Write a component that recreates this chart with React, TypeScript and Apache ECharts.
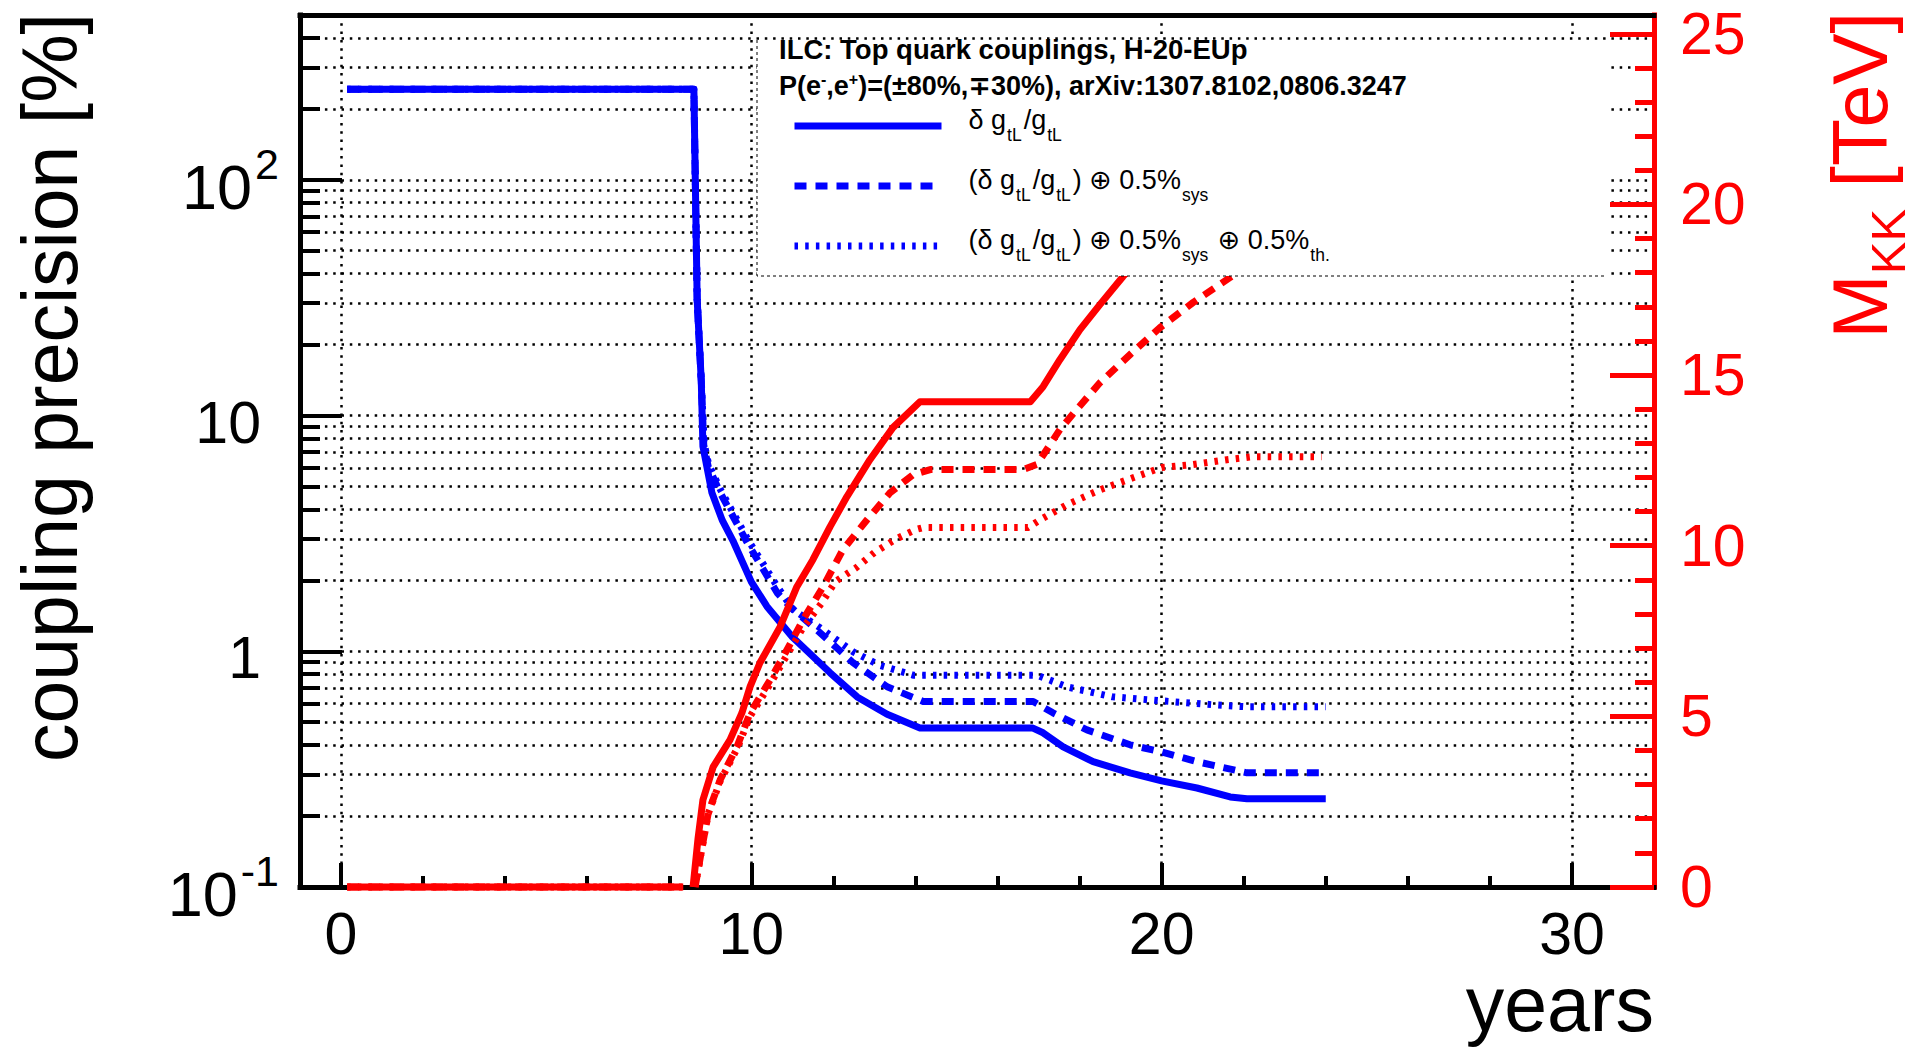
import React, { useEffect, useRef } from 'react';
import * as echarts from 'echarts';

const FONT = "'Liberation Sans', Arial, Helvetica, 'DejaVu Sans', sans-serif";
const BLUE = '#0000ff';
const RED = '#ff0000';

// ---------- axes ----------
const xRange = [-1, 32];
const xMajorTicks = [0, 10, 20, 30];
const xMinorTicks = [2, 4, 6, 8, 12, 14, 16, 18, 22, 24, 26, 28];
const yRange = [0.1, 500];
const yMajorTicks = [0.1, 1, 10, 100];
const yMinorTicks = [0.2, 0.3, 0.4, 0.5, 0.6, 0.7, 0.8, 0.9, 2, 3, 4, 5, 6, 7, 8, 9, 20, 30, 40, 50, 60, 70, 80, 90, 200, 300, 400];
const mRange = [0, 25.55];
const mMajorTicks = [0, 5, 10, 15, 20, 25];
const mMinorTicks = [1, 2, 3, 4, 6, 7, 8, 9, 11, 12, 13, 14, 16, 17, 18, 19, 21, 22, 23, 24];

// ---------- coupling precision [%] (left, log) ----------
const blueSolidYears = [0.15, 8.6, 8.68, 8.78, 8.82, 9.04, 9.29, 9.55, 10.0, 10.38, 11.0, 11.92, 12.58, 13.31, 14.11, 16.85, 17.11, 17.6, 18.33, 19.23, 20.0, 20.86, 21.67, 22.08, 24.0];
const blueSolidPrec = [242, 242, 31, 14, 7.4, 4.7, 3.6, 2.95, 1.97, 1.55, 1.15, 0.81, 0.64, 0.54, 0.473, 0.473, 0.451, 0.393, 0.34, 0.305, 0.282, 0.263, 0.241, 0.237, 0.237];

const blueDashedYears = [0.15, 8.6, 8.68, 8.78, 8.84, 8.95, 9.24, 9.9, 10.63, 10.94, 11.67, 12.48, 13.31, 14.19, 16.87, 17.35, 18.18, 19.23, 20.0, 20.86, 22.08, 24.0];
const blueDashedPrec = [242, 242, 31, 14, 7.5, 6.07, 4.71, 2.89, 1.77, 1.55, 1.2, 0.894, 0.707, 0.612, 0.612, 0.548, 0.464, 0.401, 0.374, 0.34, 0.305, 0.305];

const blueDottedYears = [0.15, 8.6, 8.68, 8.78, 8.85, 8.96, 9.26, 9.93, 10.66, 11.02, 11.67, 12.48, 13.14, 13.94, 16.96, 17.7, 18.8, 20.0, 21.25, 22.08, 24.0];
const blueDottedPrec = [242, 242, 31, 14, 7.6, 6.2, 4.8, 2.95, 1.85, 1.5, 1.26, 0.995, 0.87, 0.792, 0.792, 0.706, 0.641, 0.616, 0.593, 0.581, 0.581];

// ---------- M_KK [TeV] (right, linear) ----------
const redSolidYears = [0.15, 8.34, 8.46, 8.58, 8.7, 8.82, 9.07, 9.48, 9.77, 9.97, 10.21, 10.7, 11.11, 11.5, 11.92, 12.33, 12.89, 13.45, 14.11, 16.8, 17.11, 17.52, 18.01, 18.5, 19.06, 19.6];
const redSolidMass: (number | string)[] = [0, 0, '-', 0, 1.41, 2.55, 3.52, 4.31, 5.1, 5.87, 6.57, 7.62, 8.8, 9.59, 10.56, 11.44, 12.52, 13.46, 14.22, 14.22, 14.66, 15.45, 16.33, 17.07, 17.89, 18.6];

const redDashedYears = [0.15, 8.34, 8.48, 8.63, 8.8, 8.95, 9.24, 9.65, 9.97, 10.46, 10.87, 11.26, 11.75, 12.23, 12.82, 13.38, 13.94, 14.36, 16.62, 16.96, 17.52, 17.93, 18.5, 19.23, 19.96, 20.77, 21.67, 22.3];
const redDashedMass: (number | string)[] = [0, 0, '-', 0, 1.17, 2.17, 3.14, 4.11, 5.1, 6.07, 6.95, 7.83, 8.8, 9.88, 10.76, 11.55, 12.08, 12.23, 12.23, 12.38, 13.4, 13.99, 14.78, 15.6, 16.39, 17.13, 17.86, 18.4];

const redDottedYears = [0.15, 8.34, 8.48, 8.63, 8.8, 8.95, 9.24, 9.65, 9.97, 10.46, 10.87, 11.26, 11.7, 12.05, 12.55, 13.0, 13.53, 14.0, 14.19, 16.74, 17.04, 17.69, 18.5, 19.3, 20.0, 20.77, 21.59, 22.23, 23.9];
const redDottedMass: (number | string)[] = [0, 0, '-', 0, 1.15, 2.15, 3.1, 4.05, 5.0, 5.95, 6.8, 7.6, 8.3, 8.95, 9.35, 9.8, 10.2, 10.47, 10.53, 10.53, 10.76, 11.2, 11.64, 11.99, 12.29, 12.38, 12.52, 12.61, 12.61];

// ---------- texts ----------
const seriesNames = ['δ g_tL/g_tL', '(δ g_tL/g_tL) ⊕ 0.5%_sys', '(δ g_tL/g_tL) ⊕ 0.5%_sys ⊕ 0.5%_th.'];
const seriesLabelsRich = [
  '{gap| }{m|δ g}{s|tL}{m|/g}{s|tL}',
  '{gap| }{m|(δ g}{s|tL}{m|/g}{s|tL}{m|) ⊕ 0.5%}{s|sys}',
  '{gap| }{m|(δ g}{s|tL}{m|/g}{s|tL}{m|) ⊕ 0.5%}{s|sys}{m| ⊕ 0.5%}{s|th.}',
];
const titleLine1 = 'ILC: Top quark couplings, H-20-EUp';
const titleLine2 = 'P(e{sup|-},e{sup|+})=(±80%,∓30%), arXiv:1307.8102,0806.3247';

const zip = (xs: number[], ys: (number | string)[]) => xs.map((x, i) => [x, ys[i]]);

const gridLine = { color: '#000', width: 2.5, type: [2.5, 5.8] as any };

function buildOption(): any {
  const lineSeries = (name: string, xs: number[], ys: any[], color: string, dash: any, yAxisIndex: number) => ({
    type: 'line',
    name,
    xAxisIndex: 0,
    yAxisIndex,
    data: zip(xs, ys),
    symbol: 'none',
    showSymbol: false,
    clip: false,
    color,
    connectNulls: false,
    lineStyle: { color, width: 7, type: dash, cap: 'butt', join: 'round' },
    itemStyle: { color },
    emphasis: { disabled: true },
    z: 2,
  });

  return {
    animation: false,
    backgroundColor: '#ffffff',
    textStyle: { fontFamily: FONT },
    title: {
      left: 779,
      top: 34,
      padding: 0,
      itemGap: 7,
      text: titleLine1,
      subtext: titleLine2,
      textStyle: { fontFamily: FONT, fontSize: 27.5, fontWeight: 'bold', color: '#000', lineHeight: 30 },
      subtextStyle: {
        fontFamily: FONT, fontSize: 27, fontWeight: 'bold', color: '#000', lineHeight: 30,
        rich: { sup: { fontFamily: FONT, fontSize: 16, fontWeight: 'bold', color: '#000', verticalAlign: 'top' } },
      },
      z: 6,
    },
    legend: {
      orient: 'vertical',
      left: 791,
      top: 106,
      padding: 0,
      itemWidth: 147,
      itemHeight: 14,
      itemGap: 20,
      selectedMode: false,
      z: 6,
      itemStyle: { opacity: 0, borderWidth: 0 },
      data: [
        { name: seriesNames[0], lineStyle: { width: 7, type: 'solid', color: BLUE }, itemStyle: { opacity: 0 } },
        { name: seriesNames[1], lineStyle: { width: 7, type: [12, 9], color: BLUE }, itemStyle: { opacity: 0 } },
        { name: seriesNames[2], lineStyle: { width: 7, type: [3.5, 7.2], color: BLUE }, itemStyle: { opacity: 0 } },
      ],
      formatter: (name: string) => seriesLabelsRich[seriesNames.indexOf(name)],
      textStyle: {
        fontFamily: FONT, fontSize: 27, color: '#000', lineHeight: 40,
        rich: {
          gap: { width: 22, fontFamily: FONT, fontSize: 27 },
          m: { fontFamily: FONT, fontSize: 27, color: '#000', verticalAlign: 'top' },
          s: { fontFamily: FONT, fontSize: 17.5, color: '#000', verticalAlign: 'top', padding: [20, 2, 0, 1] },
        },
      },
    },
    grid: { left: 300, right: 264, top: 15, bottom: 160, show: false, containLabel: false, outerBoundsMode: 'none' },
    xAxis: [
      {
        type: 'value', min: xRange[0], max: xRange[1], position: 'bottom',
        axisLine: { show: true, onZero: false, lineStyle: { color: '#000', width: 5, cap: 'square' } },
        axisTick: { show: true, inside: true, length: 24, customValues: xMajorTicks, lineStyle: { color: '#000', width: 4 } },
        axisLabel: { show: true, customValues: xMajorTicks, margin: 22, color: '#000', fontSize: 59, lineHeight: 50, fontFamily: FONT },
        splitLine: { show: true, lineStyle: gridLine },
        minorTick: { show: false },
      },
      {
        type: 'value', min: xRange[0], max: xRange[1], position: 'bottom',
        axisLine: { show: false, onZero: false },
        axisTick: { show: true, inside: true, length: 11, customValues: xMinorTicks, lineStyle: { color: '#000', width: 4 } },
        axisLabel: { show: false },
        splitLine: { show: false },
      },
      {
        type: 'value', min: xRange[0], max: xRange[1], position: 'top',
        axisLine: { show: true, onZero: false, lineStyle: { color: '#000', width: 5, cap: 'square' } },
        axisTick: { show: false },
        axisLabel: { show: false },
        splitLine: { show: false },
      },
    ],
    yAxis: [
      {
        type: 'log', logBase: 10, min: yRange[0], max: yRange[1], position: 'left',
        axisLine: { show: true, onZero: false, lineStyle: { color: '#000', width: 5, cap: 'square' } },
        axisTick: { show: true, inside: true, length: 42, customValues: yMajorTicks, lineStyle: { color: '#000', width: 4 } },
        axisLabel: {
          show: true,
          customValues: yMajorTicks,
          margin: 21,
          lineHeight: 89,
          padding: [14, 0, 0, 0],
          formatter: (v: number) => {
            const e = Math.round(Math.log10(v));
            if (e === 0) return '{b|1}{sp| }';
            if (e === 1) return '{b|10}{sp| }';
            return '{bb|10}{p|' + e + '}';
          },
          rich: {
            b: { fontFamily: FONT, fontSize: 59, color: '#000' },
            bb: { fontFamily: FONT, fontSize: 63, color: '#000', padding: [0, 3, 0, 0] },
            p: { fontFamily: FONT, fontSize: 43, color: '#000', verticalAlign: 'top' },
            sp: { fontFamily: FONT, fontSize: 20, width: 18 },
          },
        },
        splitLine: { show: true, lineStyle: gridLine },
      },
      {
        type: 'log', logBase: 10, min: yRange[0], max: yRange[1], position: 'left', offset: 0,
        axisLine: { show: false, onZero: false },
        axisTick: { show: true, inside: true, length: 20, customValues: yMinorTicks, lineStyle: { color: '#000', width: 4 } },
        axisLabel: { show: false },
        splitLine: { show: true, lineStyle: gridLine },
      },
      {
        type: 'value', min: mRange[0], max: mRange[1], position: 'right',
        axisLine: { show: true, onZero: false, lineStyle: { color: RED, width: 5, cap: 'square' } },
        axisTick: { show: true, inside: true, length: 44, customValues: mMajorTicks, lineStyle: { color: RED, width: 5 } },
        axisLabel: { show: true, customValues: mMajorTicks, margin: 26, color: RED, fontSize: 59, fontFamily: FONT },
        splitLine: { show: false },
      },
      {
        type: 'value', min: mRange[0], max: mRange[1], position: 'right', offset: 0,
        axisLine: { show: false, onZero: false },
        axisTick: { show: true, inside: true, length: 19, customValues: mMinorTicks, lineStyle: { color: RED, width: 5 } },
        axisLabel: { show: false },
        splitLine: { show: false },
      },
    ],
    graphic: {
      elements: [
        { type: 'rect', z: 3, shape: { x: 757, y: 40, width: 850, height: 236 }, style: { fill: '#ffffff' } },
        {
          type: 'polyline', z: 3,
          shape: { points: [[757, 40], [757, 276], [1607, 276]] },
          style: { stroke: '#000', lineWidth: 1, lineDash: [3, 3], fill: null },
        },
        {
          type: 'text', x: 50, y: 13, rotation: Math.PI / 2, z: 3,
          style: { text: 'coupling precision [%]', fontFamily: FONT, fontSize: 77, fill: '#000', align: 'right', verticalAlign: 'middle' },
        },
        {
          type: 'text', x: 1654, y: 1004, z: 3,
          style: { text: 'years', fontFamily: FONT, fontSize: 77, lineHeight: 60, fill: '#000', align: 'right', verticalAlign: 'middle' },
        },
        {
          type: 'text', x: 1860, y: 12, rotation: Math.PI / 2, z: 3,
          style: {
            text: 'M{sub|KK} [TeV]', fontFamily: FONT, fontSize: 77, fill: RED, align: 'right', verticalAlign: 'middle', lineHeight: 77,
            rich: { sub: { fontFamily: FONT, fontSize: 49, fill: RED, verticalAlign: 'top', padding: [42, 0, 0, 0] } },
          },
        },
      ],
    },
    series: [
      lineSeries(seriesNames[0], blueSolidYears, blueSolidPrec, BLUE, 'solid', 0),
      lineSeries(seriesNames[1], blueDashedYears, blueDashedPrec, BLUE, [12, 9], 0),
      lineSeries(seriesNames[2], blueDottedYears, blueDottedPrec, BLUE, [3.5, 7.2], 0),
      lineSeries('M_KK', redSolidYears, redSolidMass, RED, 'solid', 2),
      lineSeries('M_KK ⊕ 0.5%_sys', redDashedYears, redDashedMass, RED, [12, 9], 2),
      lineSeries('M_KK ⊕ 0.5%_sys ⊕ 0.5%_th.', redDottedYears, redDottedMass, RED, [3.5, 7.2], 2),
    ],
  };
}

export default function App() {
  const ref = useRef<HTMLDivElement>(null);
  useEffect(() => {
    document.body.style.margin = '0';
    const chart = echarts.init(ref.current as HTMLDivElement, null, { renderer: 'svg' });
    chart.setOption(buildOption());
    return () => chart.dispose();
  }, []);
  return (
    <div
      ref={ref}
      style={{ position: 'fixed', left: 0, top: 0, width: '1918px', height: '1047px', background: '#fff' }}
    />
  );
}
